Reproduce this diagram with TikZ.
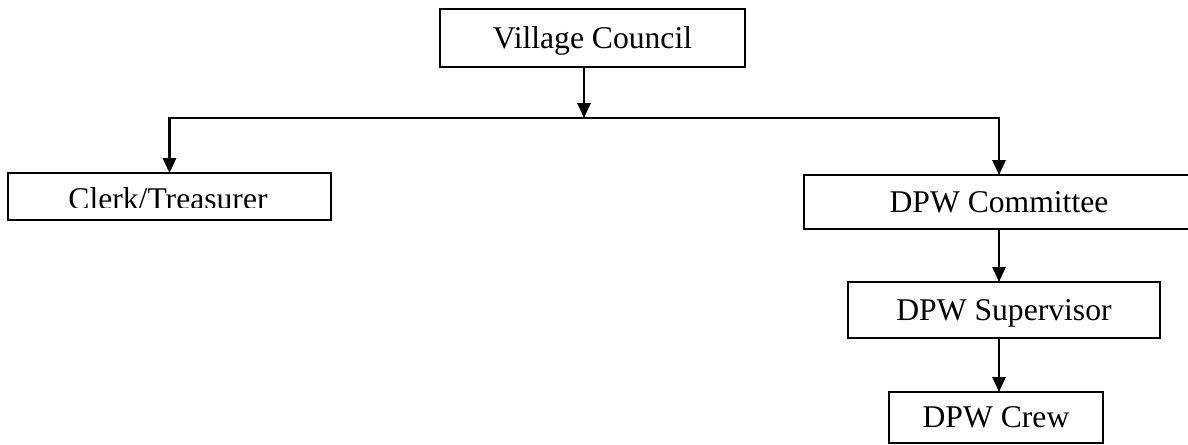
\documentclass[tikz,border=0pt]{standalone}
\usepackage{fontspec}
\setmainfont{Liberation Serif}
\usetikzlibrary{arrows.meta}

\tikzset{
    box/.style={draw, line width=1.2pt, inner sep=0pt, outer sep=0pt,
        text height=11.8pt, text depth=0pt,
        font=\fontsize{18}{21}\selectfont},
    arr/.style={line width=1.2pt, -{Triangle[length=8.5pt, width=7.5pt]}}
}

\begin{document}
\begin{tikzpicture}[x=0.02cm, y=-0.02cm]
    \useasboundingbox (0,0) rectangle (1188,445);
    \node(council)[box, minimum width=6.1cm, minimum height=1.16cm] at (592.5,38) {Village Council};
    \node(clerk)[box, minimum width=6.46cm, minimum height=0.94cm] at (169.5,196.5) {};
    \begin{scope}
        \clip (10,175) rectangle (329,208);
        \node(clerktext)[anchor=base, inner sep=0pt, font=\fontsize{18}{21}\selectfont] at (168,210) {Clerk/Treasurer};
    \end{scope}
    \node(committee)[box, minimum width=7.8cm, minimum height=1.08cm] at (999,202) {DPW Committee};
    \node(supervisor)[box, minimum width=6.24cm, minimum height=1.12cm] at (1004,310) {DPW Supervisor};
    \node(crew)[box, minimum width=4.28cm, minimum height=1.02cm] at (996,417.5) {DPW Crew};
    \coordinate(split) at (584,118);
    \draw[arr] (council.south -| split) -- (split);
    \draw[arr] (split) -| (clerk.north);
    \draw[arr] (split) -| (committee.north);
    \draw[arr] (committee.south) -- (supervisor.north -| committee.south);
    \draw[arr] (supervisor.south -| committee.south) -- (crew.north -| committee.south);
\end{tikzpicture}
\end{document}
